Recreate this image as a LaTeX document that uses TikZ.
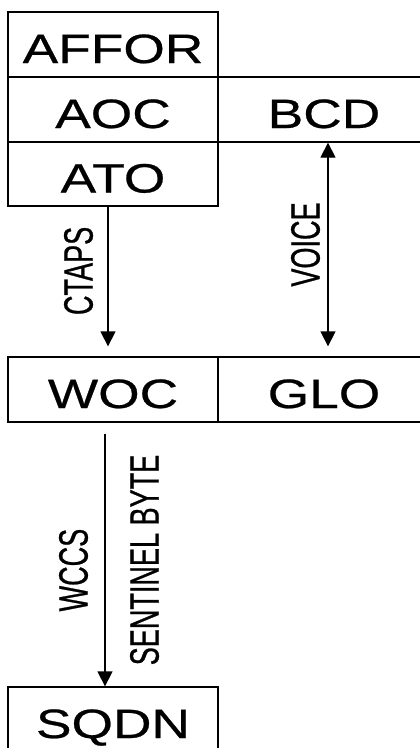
\documentclass[tikz,border=0pt]{standalone}
\usepackage{fontspec}
\newfontfamily\boxfont[FakeStretch=1.3, FakeBold=0.6]{Liberation Sans}
\newfontfamily\labelfont[FakeStretch=0.66, FakeBold=0.6]{Liberation Sans}
\usetikzlibrary{arrows.meta,positioning}

\begin{document}
\begin{tikzpicture}[
    x=1pt, y=-1pt,
    % Stili
    unit/.style={
        rectangle, draw, line width=1.3pt, inner sep=0pt,
        minimum width=210pt, minimum height=65pt,
        text height=37pt, text depth=0pt,
        font=\boxfont\fontsize{41}{41}\selectfont
    },
    wideunit/.style={unit, minimum width=212pt},
    signal/.style={
        rotate=90, inner sep=0pt,
        font=\labelfont\fontsize{41}{41}\selectfont
    },
    arrow/.style={-{Triangle[width=15pt,length=15pt]}, line width=1.3pt},
    biarrow/.style={{Triangle[width=15pt,length=15pt]}-{Triangle[width=15pt,length=15pt]}, line width=1.3pt}
]
\clip (0,0) rectangle (420,748);

% Colonna sinistra
\node[unit] (affor) at (113,44.5) {AFFOR};
\node[unit] (aoc) at (113,109.5) {AOC};
\node[unit, minimum height=64pt] (ato) at (113,174) {ATO};

% Colonna destra
\node[wideunit] (bcd) at (324,109.5) {BCD};

% Livello intermedio
\node[unit] (woc) at (113,389.5) {WOC};
\node[wideunit] (glo) at (324,389.5) {GLO};

% Livello inferiore
\node[unit] (sqdn) at (113,719.5) {SQDN};

% Flussi
\draw[arrow] ([xshift=-5pt]ato.south) -- ([xshift=-5pt, yshift=10pt]woc.north)
    node[signal, pos=0.46, anchor=south, outer sep=15pt] (ctaps) {CTAPS};
\draw[biarrow] ([xshift=4pt]bcd.south) -- ([xshift=4pt, yshift=10pt]glo.north)
    node[signal, pos=0.5, anchor=south, outer sep=8pt] (voice) {VOICE};
\draw[arrow] ([xshift=-8pt, yshift=-11pt]woc.south) -- ([xshift=-8pt]sqdn.north)
    node[signal, pos=0.54, anchor=south, outer sep=17pt] (wccs) {WCCS}
    node[signal, pos=0.5, anchor=north, outer sep=25pt] (sentinel) {SENTINEL BYTE};

\end{tikzpicture}
\end{document}
